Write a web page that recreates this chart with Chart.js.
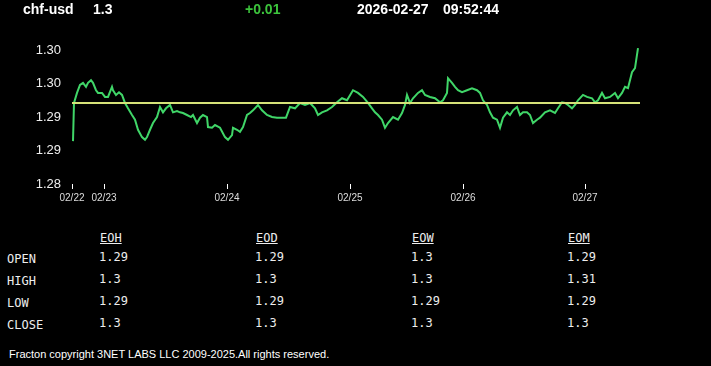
<!DOCTYPE html>
<html>
<head>
<meta charset="utf-8">
<script src="https://cdn.jsdelivr.net/npm/chart.js@4.4.1/dist/chart.umd.min.js"></script>
<style>
  html, body { margin: 0; padding: 0; background: #000; width: 711px; height: 366px; overflow: hidden; }
  #wrap { position: relative; width: 711px; height: 366px; }
  #chartBox { position: absolute; left: 0; top: 0; width: 711px; height: 215px; }
  .hdr { position: absolute; top: 1px; font: bold 14px "Liberation Sans", Arial, sans-serif; color: #fff; line-height: 16px; white-space: nowrap; }
  .tbl { position: absolute; font: 12px "DejaVu Sans Mono", monospace; color: #eee; line-height: 14px; white-space: nowrap; }
  .tbl.head { text-decoration: underline; }
  #footer { position: absolute; left: 9px; top: 348px; font: 11px "Liberation Sans", Arial, sans-serif; color: #fff; white-space: nowrap; }
</style>
</head>
<body>
<div id="wrap">
  <div id="chartBox"><canvas id="priceChart"></canvas></div>
  <div class="hdr" style="left:23px">chf-usd</div>
  <div class="hdr" style="left:93px">1.3</div>
  <div class="hdr" style="left:245px;color:#3cc43c">+0.01</div>
  <div class="hdr" style="left:357px">2026-02-27</div>
  <div class="hdr" style="left:443px">09:52:44</div>
  <div id="table"></div>
  <div id="footer">Fracton copyright 3NET LABS LLC 2009-2025.All rights reserved.</div>
</div>
<script>
// sample index (one step per feed sample) and close price
const sampleIdx = [1, 2, 5, 8, 11, 14, 16, 19, 21, 24, 26, 30, 33, 36, 40, 41, 44, 47, 50, 53, 56, 60, 63, 66, 70, 73, 75, 78, 81, 85, 88, 91, 94, 98,
  101, 105, 108, 111, 115, 119, 121, 125, 128, 131, 135, 136, 140, 143, 148, 153, 156, 160, 161, 165, 168, 171, 175, 178, 181, 186, 190, 195,
  200, 205, 210, 214, 218, 223, 228, 233, 238, 243, 246, 250, 255, 260, 265, 270, 275, 281, 286, 291, 296, 300, 303, 306, 310, 313, 316, 321,
  326, 330, 333, 335, 338, 341, 346, 350, 353, 358, 363, 368, 371, 375, 376, 380, 383, 386, 390, 395, 400, 405, 408, 411, 415, 418, 421, 425,
  428, 431, 435, 438, 441, 445, 448, 451, 455, 458, 461, 465, 468, 473, 478, 483, 486, 490, 493, 496, 500, 503, 506, 511, 515, 520, 523, 526,
  530, 533, 538, 543, 546, 550, 553, 556, 560, 563, 566];
const closePrice = [1.2864, 1.2921, 1.2936, 1.2948, 1.2951, 1.2945, 1.2951, 1.2955, 1.2951, 1.2940, 1.2936, 1.2936, 1.2930, 1.2930, 1.2945, 1.2940,
  1.2933, 1.2937, 1.2933, 1.2921, 1.2913, 1.2903, 1.2896, 1.2881, 1.2870, 1.2866, 1.2870, 1.2881, 1.2891, 1.2900, 1.2915, 1.2907, 1.2913, 1.2918,
  1.2907, 1.2909, 1.2907, 1.2906, 1.2903, 1.2900, 1.2903, 1.2891, 1.2899, 1.2903, 1.2900, 1.2885, 1.2884, 1.2888, 1.2884, 1.2870, 1.2866, 1.2873,
  1.2884, 1.2881, 1.2878, 1.2885, 1.2903, 1.2906, 1.2910, 1.2918, 1.2910, 1.2903, 1.2900, 1.2899, 1.2899, 1.2899, 1.2915, 1.2913, 1.2921, 1.2918,
  1.2921, 1.2913, 1.2903, 1.2907, 1.2910, 1.2915, 1.2922, 1.2928, 1.2925, 1.2940, 1.2936, 1.2930, 1.2921, 1.2913, 1.2907, 1.2903, 1.2896, 1.2884,
  1.2891, 1.2900, 1.2896, 1.2906, 1.2918, 1.2933, 1.2921, 1.2928, 1.2936, 1.2940, 1.2933, 1.2930, 1.2928, 1.2922, 1.2925, 1.2936, 1.2958, 1.2951,
  1.2945, 1.2940, 1.2937, 1.2940, 1.2943, 1.2940, 1.2936, 1.2925, 1.2918, 1.2907, 1.2899, 1.2896, 1.2884, 1.2899, 1.2907, 1.2903, 1.2910, 1.2915,
  1.2903, 1.2907, 1.2907, 1.2903, 1.2891, 1.2896, 1.2899, 1.2907, 1.2910, 1.2906, 1.2913, 1.2922, 1.2921, 1.2918, 1.2913, 1.2918, 1.2925, 1.2933,
  1.2930, 1.2928, 1.2922, 1.2925, 1.2936, 1.2928, 1.2930, 1.2936, 1.2928, 1.2936, 1.2945, 1.2943, 1.2967, 1.2973, 1.3003];

const refLevel = 1.2921;
const xMin = 0, xMax = 568;
const yMin = 1.28, yMax = 1.3015;

const dateTickIdx = [0, 32, 155, 278, 391, 513];
const dateTickLabels = ['02/22', '02/23', '02/24', '02/25', '02/26', '02/27'];
const priceTickVals = [1.28, 1.285, 1.29, 1.295, 1.30];
const priceTickLabels = ['1.28', '1.29', '1.29', '1.30', '1.30'];

// summary table
const colNames = ['EOH', 'EOD', 'EOW', 'EOM'];
const rowNames = ['OPEN', 'HIGH', 'LOW', 'CLOSE'];
const eohVals = ['1.29', '1.3', '1.29', '1.3'];
const eodVals = ['1.29', '1.3', '1.29', '1.3'];
const eowVals = ['1.3', '1.3', '1.29', '1.3'];
const eomVals = ['1.29', '1.31', '1.29', '1.3'];

function buildTable() {
  const box = document.getElementById('table');
  const colX = [100, 256, 412, 568];
  const rowY = [252, 274, 296, 318];
  const cols = [eohVals, eodVals, eowVals, eomVals];
  let html = '';
  colNames.forEach((c, i) => {
    html += `<div class="tbl head" style="left:${colX[i]}px;top:231px">${c}</div>`;
  });
  rowNames.forEach((r, j) => {
    html += `<div class="tbl" style="left:7px;top:${rowY[j]}px">${r}</div>`;
    cols.forEach((vals, i) => {
      html += `<div class="tbl" style="left:${colX[i] - 1}px;top:${rowY[j] - 2}px">${vals[j]}</div>`;
    });
  });
  box.innerHTML = html;
}

function drawChart() {
  const ctx = document.getElementById('priceChart').getContext('2d');
  const pts = sampleIdx.map((x, i) => ({ x: x, y: closePrice[i] }));
  window.priceChart = new Chart(ctx, {
    type: 'line',
    data: {
      datasets: [
        {
          label: 'level',
          data: [{ x: xMin, y: refLevel }, { x: xMax, y: refLevel }],
          borderColor: 'rgb(214,226,120)',
          borderWidth: 2,
          pointRadius: 0
        },
        {
          label: 'chf-usd',
          data: pts,
          borderColor: 'rgb(64,214,104)',
          borderWidth: 2,
          pointRadius: 0,
          tension: 0
        }
      ]
    },
    options: {
      responsive: true,
      maintainAspectRatio: false,
      animation: false,
      layout: { padding: { left: 0, right: 71, top: 40, bottom: 0 } },
      plugins: { legend: { display: false }, tooltip: { enabled: false } },
      scales: {
        x: {
          type: 'linear',
          min: xMin,
          max: xMax,
          border: { display: false },
          grid: { drawOnChartArea: false, drawTicks: true, tickLength: 5, color: '#fff' },
          afterBuildTicks: (scale) => { scale.ticks = dateTickIdx.map(v => ({ value: v })); },
          afterFit: (scale) => { scale.height = 31; },
          ticks: {
            color: '#ddd',
            font: { family: 'Liberation Sans, Arial, sans-serif', size: 10 },
            padding: 3,
            maxRotation: 0,
            autoSkip: false,
            callback: (v) => dateTickLabels[dateTickIdx.indexOf(v)]
          }
        },
        y: {
          min: yMin,
          max: yMax,
          border: { display: false },
          grid: { display: false, drawTicks: false },
          afterBuildTicks: (scale) => { scale.ticks = priceTickVals.map(v => ({ value: v })); },
          afterFit: (scale) => { scale.width = 72; },
          ticks: {
            color: '#eee',
            font: { family: 'Liberation Sans, Arial, sans-serif', size: 13 },
            padding: 11,
            callback: (v, i) => priceTickLabels[i]
          }
        }
      }
    }
  });
}

window.addEventListener('DOMContentLoaded', () => {
  buildTable();
  drawChart();
});
</script>
</body>
</html>
